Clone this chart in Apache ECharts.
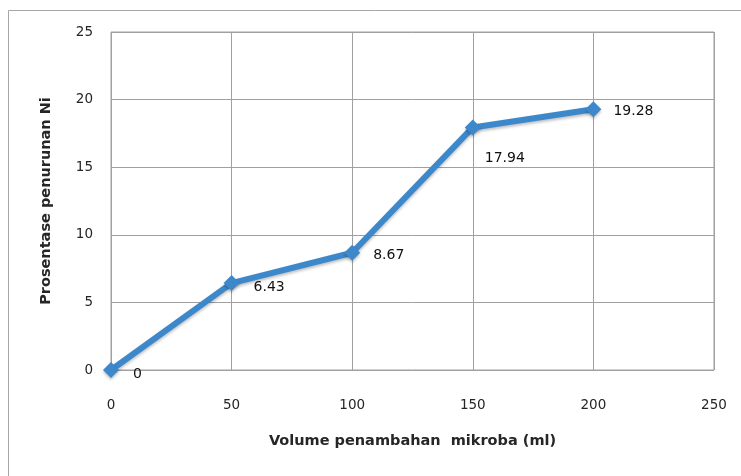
<!DOCTYPE html>
<html><head><meta charset="utf-8">
<script src="https://cdn.jsdelivr.net/npm/echarts@6/dist/echarts.min.js"></script>
<style>html,body{margin:0;padding:0;background:#fff;}#c{width:741px;height:476px;}</style>
</head><body><div id="c"></div>
<script>
const xValues = [0, 50, 100, 150, 200];
const yValues = [0, 6.43, 8.67, 17.94, 19.28];
const labelTexts = ['0', '6.43', '8.67', '17.94', '19.28'];
const xTitle = 'Volume penambahan  mikroba (ml)';
const yTitle = 'Prosentase penurunan Ni';

const labelOffsets = [[9, 4], [9, 4], [8, 3], [-1, 31], [7, 2]];
const data = xValues.map((x, i) => ({
  value: [x, yValues[i]],
  label: { formatter: labelTexts[i], offset: labelOffsets[i] }
}));

const chart = echarts.init(document.getElementById('c'), null, {renderer: 'canvas'});
const font = '"DejaVu Sans", sans-serif';
chart.setOption({
  animation: false,
  backgroundColor: '#fff',
  graphic: [{
    type: 'rect', shape: {x: 8.5, y: 10.5, width: 760, height: 500},
    style: {fill: 'none', stroke: '#a6a6a6', lineWidth: 1}, silent: true
  }],
  grid: {left: 111, top: 32, right: 27, bottom: 106, show: true, borderColor: '#a0a0a0', borderWidth: 1},
  xAxis: {
    type: 'value', min: 0, max: 250, interval: 50,
    name: xTitle, nameLocation: 'middle', nameGap: 64,
    nameTextStyle: {fontFamily: font, fontSize: 14.5, fontWeight: 'bold', color: '#262626'},
    axisLine: {show: false}, axisTick: {show: false},
    axisLabel: {fontFamily: font, fontSize: 13.5, color: '#262626', margin: 28},
    splitLine: {show: true, lineStyle: {color: '#a0a0a0', width: 1}}
  },
  yAxis: {
    type: 'value', min: 0, max: 25, interval: 5,
    name: yTitle, nameLocation: 'middle', nameGap: 57,
    nameTextStyle: {fontFamily: font, fontSize: 14.5, fontWeight: 'bold', color: '#262626'},
    axisLine: {show: false}, axisTick: {show: false},
    axisLabel: {fontFamily: font, fontSize: 13.5, color: '#262626', margin: 18},
    splitLine: {show: true, lineStyle: {color: '#a0a0a0', width: 1}}
  },
  series: [{
    type: 'line', data: data,
    symbol: 'diamond', symbolSize: 16,
    lineStyle: {color: '#3d88ca', width: 6, shadowColor: 'rgba(0,0,0,0.25)', shadowBlur: 3, shadowOffsetY: 2},
    itemStyle: {color: '#3d88ca', shadowColor: 'rgba(0,0,0,0.25)', shadowBlur: 3, shadowOffsetY: 2},
    label: {show: true, position: 'right', fontFamily: font, fontSize: 14, color: '#111'}
  }]
});
</script></body></html>
